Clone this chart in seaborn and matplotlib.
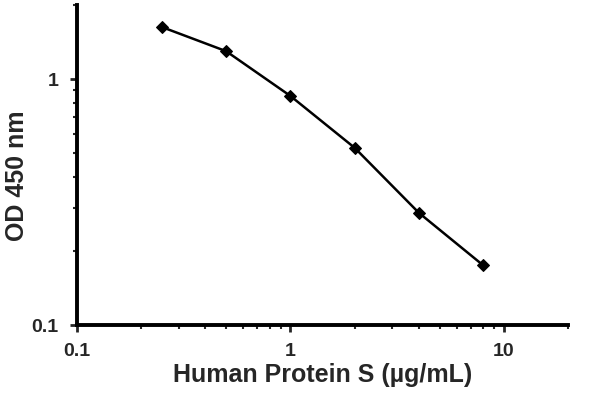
import pandas as pd
import seaborn as sns
import matplotlib.pyplot as plt
from matplotlib.ticker import LogLocator, FixedLocator, FixedFormatter, NullFormatter

# standard curve readings
concentration = [0.25, 0.5, 1, 2, 4, 8]
od_450 = [1.63, 1.30, 0.855, 0.526, 0.286, 0.175]

x_ticks = [0.1, 1, 10]
x_tick_labels = ["0.1", "1", "10"]
y_ticks = [0.1, 1]
y_tick_labels = ["0.1", "1"]


def main():
    df = pd.DataFrame({"conc": concentration, "od": od_450})

    sns.set_style("ticks")
    plt.rcParams["font.family"] = ["Liberation Sans", "DejaVu Sans"]

    fig = plt.figure(figsize=(6, 3.96), dpi=100)
    ax = fig.add_axes([0.128, 0.179, 0.819, 0.808])

    sns.lineplot(data=df, x="conc", y="od", ax=ax, color="black",
                 linewidth=1.8, marker="D", markersize=6,
                 markeredgecolor="black")

    ax.set_xscale("log")
    ax.set_yscale("log")
    ax.set_xlim(0.1, 20)
    ax.set_ylim(0.1, 2)

    ax.xaxis.set_major_locator(FixedLocator(x_ticks))
    ax.xaxis.set_major_formatter(FixedFormatter(x_tick_labels))
    ax.yaxis.set_major_locator(FixedLocator(y_ticks))
    ax.yaxis.set_major_formatter(FixedFormatter(y_tick_labels))
    ax.xaxis.set_minor_locator(LogLocator(base=10, subs=range(2, 10)))
    ax.yaxis.set_minor_locator(LogLocator(base=10, subs=range(2, 10)))
    ax.xaxis.set_minor_formatter(NullFormatter())
    ax.yaxis.set_minor_formatter(NullFormatter())

    ax.tick_params(which="major", direction="out", length=5, width=2,
                   labelsize=14, pad=8)
    ax.tick_params(which="minor", direction="out", length=3, width=1.5)
    for lab in ax.get_xticklabels() + ax.get_yticklabels():
        lab.set_fontweight("bold")
        lab.set_fontsize(14)

    for side in ["top", "right"]:
        ax.spines[side].set_visible(False)
    for side in ["left", "bottom"]:
        ax.spines[side].set_linewidth(2.8)
        ax.spines[side].set_color("black")

    ax.set_xlabel("Human Protein S (µg/mL)", fontsize=18, fontweight="bold",
                  labelpad=2)
    ax.set_ylabel("OD 450 nm", fontsize=18, fontweight="bold")
    ax.yaxis.set_label_coords(-0.098, 0.466)

    fig.savefig("out.png", dpi=100)
    plt.close(fig)


if __name__ == "__main__":
    main()
